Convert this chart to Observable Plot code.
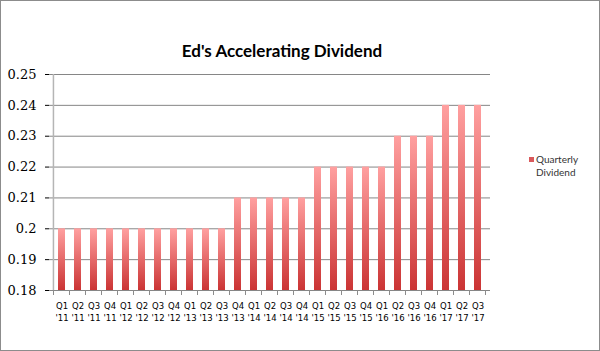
<!DOCTYPE html>
<html><head><meta charset="utf-8">
<script src="https://cdn.jsdelivr.net/npm/d3@7"></script>
<script src="https://cdn.jsdelivr.net/npm/@observablehq/plot@0.6"></script>
<style>
body{margin:0;background:#fff;}
#wrap{position:relative;width:600px;height:351px;overflow:hidden;}
#wrap svg{display:block;}
#frame{position:absolute;left:0;top:0;width:598px;height:349px;border:1px solid #8c8c8c;pointer-events:none;}
.legend{position:absolute;left:529px;top:153px;font:10px Lato, "Open Sans", sans-serif;color:#333;line-height:13px;}
.legend .sw{position:absolute;left:0;top:4px;width:5px;height:5px;background:#d9595b;}
.legend .tx{margin-left:7px;}
</style></head><body>
<div id="wrap"><div id="frame"></div>
<div class="legend"><div class="sw"></div><div class="tx">Quarterly<br>Dividend</div></div>
</div>
<script>
const title = "Ed's Accelerating Dividend";
const seriesName = "Quarterly Dividend";
const quarters = ["Q1","Q2","Q3","Q4","Q1","Q2","Q3","Q4","Q1","Q2","Q3","Q4","Q1","Q2","Q3","Q4","Q1","Q2","Q3","Q4","Q1","Q2","Q3","Q4","Q1","Q2","Q3"];
const years = ["'11","'11","'11","'11","'12","'12","'12","'12","'13","'13","'13","'13","'14","'14","'14","'14","'15","'15","'15","'15","'16","'16","'16","'16","'17","'17","'17"];
const dividends = [0.20,0.20,0.20,0.20,0.20,0.20,0.20,0.20,0.20,0.20,0.20,0.21,0.21,0.21,0.21,0.21,0.22,0.22,0.22,0.22,0.22,0.23,0.23,0.23,0.24,0.24,0.24];
const yTicks = [0.18,0.19,0.20,0.21,0.22,0.23,0.24,0.25];
const yBase = 0.18;

const labels = quarters.map((q, i) => q + "\n" + years[i]);
const data = labels.map((label, i) => ({label, value: dividends[i]}));
const padIn = 0.57;

const defs = () => {
  const d = d3.create("svg:defs");
  const g = d.append("linearGradient").attr("id", "barGrad")
    .attr("x1", 0).attr("y1", 0).attr("x2", 0).attr("y2", 1);
  g.append("stop").attr("offset", "0%").attr("stop-color", "#ffa0a0");
  g.append("stop").attr("offset", "100%").attr("stop-color", "#cb3434");
  return d.node();
};

const axisLines = (index, {x, y}) => {
  const g = d3.create("svg:g");
  const x0 = x(labels[0]);
  const step = x(labels[1]) - x0;
  const left = x0 - step * padIn / 2;
  g.append("line").attr("x1", left).attr("x2", left)
    .attr("y1", y(yTicks[yTicks.length - 1])).attr("y2", y(yBase))
    .attr("stroke", "#b5b5b5").attr("stroke-width", 1.5);
  const gt = g.append("g").attr("stroke", "#8c8c8c");
  for (let k = 0; k <= labels.length; ++k) {
    const bx = Math.round(left + k * step) + 0.5;
    gt.append("line").attr("x1", bx).attr("x2", bx)
      .attr("y1", y(yBase)).attr("y2", y(yBase) + 5);
  }
  return g.node();
};

const chart = Plot.plot({
  width: 600,
  height: 351,
  marginLeft: 49,
  marginRight: 110,
  marginTop: 74,
  marginBottom: 61,
  x: {domain: labels, paddingInner: padIn, paddingOuter: padIn / 2, label: null},
  y: {domain: [yBase, yTicks[yTicks.length - 1]], label: null},
  marks: [
    defs,
    Plot.gridY(yTicks, {stroke: "#868686", strokeOpacity: 1}),
    Plot.barY(data, {x: "label", y1: yBase, y2: "value", fill: "url(#barGrad)", title: d => seriesName + ": " + d.value}),
    axisLines,
    Plot.axisY(yTicks, {tickSize: 4, tickPadding: 9, tickFormat: d => String(+d.toFixed(2)), fontFamily: "DejaVu Serif", fontSize: 13}),
    Plot.axisX({tickSize: 0, tickPadding: 9, lineHeight: 1.5, fontFamily: "DejaVu Sans", fontSize: 8.5}),
    Plot.text([title], {frameAnchor: "top", dx: 12, dy: -30, fontWeight: "bold", fontSize: 17, fill: "#000", fontFamily: "Lato"})
  ]
});
document.getElementById("wrap").prepend(chart);
</script>
</body></html>
